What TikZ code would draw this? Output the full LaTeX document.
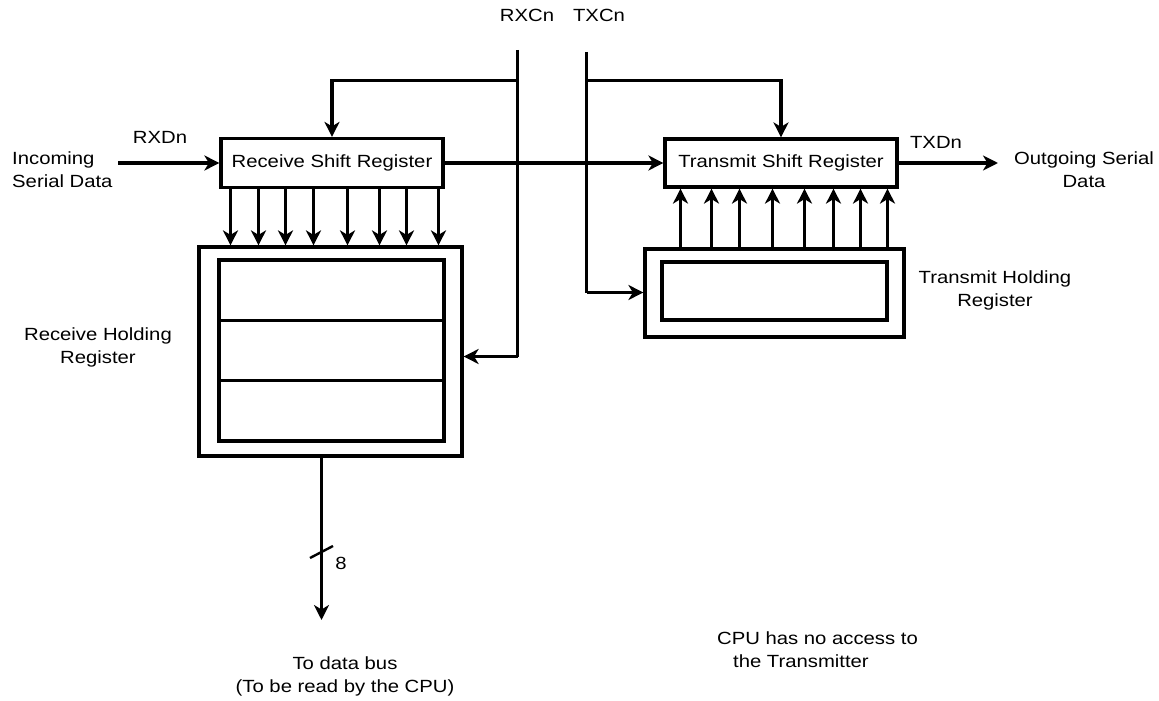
\documentclass[tikz,border=0pt]{standalone}
\usepackage{fontspec}
\setmainfont{Liberation Sans}[FakeStretch=1.15]
\usetikzlibrary{arrows.meta}
\begin{document}
\begin{tikzpicture}[x=1bp,y=-1bp,
  every node/.style={font=\fontsize{17.7}{23}\selectfont, inner sep=0pt},
  wire/.style={line width=3.2bp},
  arr/.style={wire, -{Stealth[length=15bp,width=15bp,inset=4.5bp]}},
  regbox/.style={draw, line width=3.2bp, minimum width=#1, inner sep=0pt},
  lbl/.style={align=center}
]
\useasboundingbox (0,0) rectangle (1159,701);

% boxes
\node[regbox=222bp, minimum height=49bp] (rsr) at (332,163) {Receive Shift Register};
\node[regbox=232bp, minimum height=48bp] (tsr) at (781,163) {Transmit Shift Register};
\node[regbox=263bp, minimum height=209bp] (rhr) at (330.5,351.5) {};
\node[regbox=225bp, minimum height=181bp] (rhri) at (331.5,350.5) {};
\node[regbox=259bp, minimum height=88bp] (thr) at (774.5,293) {};
\node[regbox=225bp, minimum height=58bp] (thri) at (774.5,291) {};
\draw[wire] (rhri.west |- 0,320.5) -- (rhri.east |- 0,320.5);
\draw[wire] (rhri.west |- 0,380.5) -- (rhri.east |- 0,380.5);

% labels
\node (rxdn) at (160,137) {RXDn};
\node[align=left, anchor=west] (inc) at (12,170) {Incoming\\Serial Data};
\node (rxcn) at (527,15) {RXCn};
\node (txcn) at (599,15) {TXCn};
\node (txdn) at (936,142) {TXDn};
\node[lbl] (out) at (1084,170) {Outgoing Serial\\Data};
\node[lbl] (thrl) at (995,290) {Transmit Holding\\Register};
\node[lbl] (rhrl) at (98,347) {Receive Holding\\Register};
\node[lbl] (bus) at (345,676) {To data bus\\(To be read by the CPU)};
\node[align=left, anchor=west] (cpu) at (717,650) {CPU has no access to\\\hspace*{16pt}the Transmitter};
\node (eight) at (341,563) {8};

% coordinates
\coordinate (rxin) at (118,163);
\coordinate (rxtop) at (517.5,50);
\coordinate (rxbr) at (517.5,80.5);
\coordinate (rxbot) at (517.5,356.5);
\coordinate (txtop) at (586.5,52);
\coordinate (txbr) at (586.5,80.5);
\coordinate (txbot) at (586.5,292.5);
\coordinate (txout) at (998,163);
\coordinate (busend) at (321.5,620);
\coordinate (sla) at (310,558);
\coordinate (slb) at (333,546);

% connectors
\draw[arr] (rxin) -- (rsr.west);
\draw[wire] (rxtop) -- (rxbot);
\draw[arr] (rxbot) -- (rxbot -| rhr.east);
\draw[arr] (rxbr) -| (rsr.north);
\draw[wire] (txtop) -- (txbot);
\draw[arr] (txbot) -- (txbot -| thr.west);
\draw[arr] (txbr) -| (tsr.north);
\draw[arr] (rsr.east) -- (tsr.west);
\draw[arr] (tsr.east) -- (txout);
\foreach \x in {230.5,258.5,285.5,313.5,347.5,379.5,406.5,438.5}
  \draw[arr] (\x,0 |- rsr.south) -- (\x,0 |- rhr.north);
\foreach \x in {680.5,711.5,739.5,772.5,804.5,833.5,860.5,887.5}
  \draw[arr] (\x,0 |- thr.north) -- (\x,0 |- tsr.south);
\draw[arr] (321.5,0 |- rhr.south) -- (busend);
\draw[line width=2.4bp] (sla) -- (slb);
\end{tikzpicture}
\end{document}
